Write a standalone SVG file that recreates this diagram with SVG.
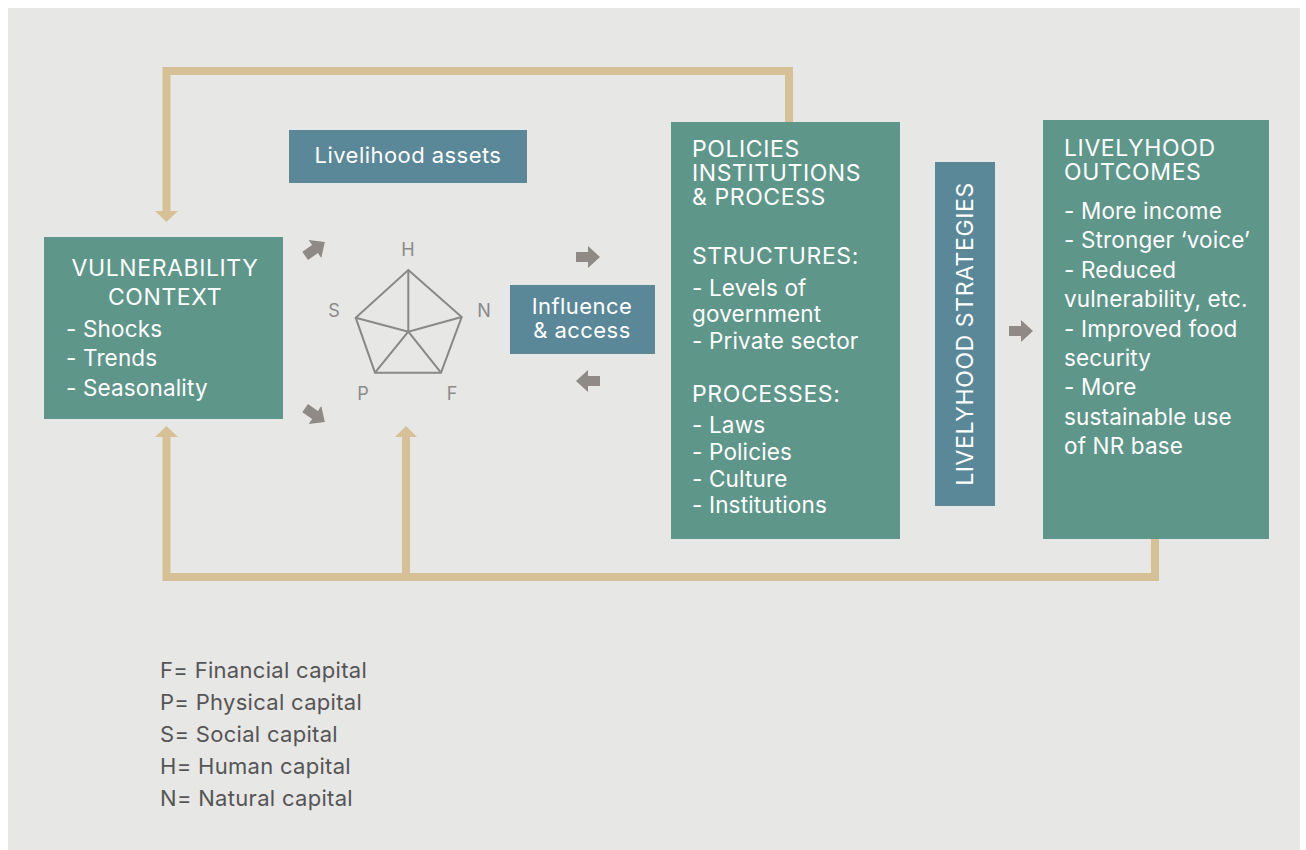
<svg xmlns="http://www.w3.org/2000/svg" width="1306" height="850" viewBox="0 0 1306 850">
<defs>
<style>
.bg{fill:#e7e7e5}
.teal{fill:#5e968a}
.blue{fill:#5a8898}
.wt{fill:#ffffff;font-family:Inter,"Liberation Sans",sans-serif;font-size:22.5px;letter-spacing:0.15px}
.ttl{fill:#ffffff;font-family:Inter,"Liberation Sans",sans-serif;font-size:23px;letter-spacing:0.6px}
.sm{fill:#ffffff;font-family:Inter,"Liberation Sans",sans-serif;font-size:22px;letter-spacing:0.45px}
.lab{fill:#8a8a8a;font-family:Inter,"Liberation Sans",sans-serif;font-size:18px}
.leg{fill:#555555;font-family:Inter,"Liberation Sans",sans-serif;font-size:22px;letter-spacing:0.3px}
.tan{fill:none;stroke:#d6c095;stroke-width:8}
.tanh{fill:#d6c095}
.ga{fill:#8f8a85}
.pent{fill:none;stroke:#888888;stroke-width:2}
</style>
<path id="garrow" d="M-12,-5 h12 v-6 l12,11 l-12,11 v-6 h-12 z"/>
</defs>
<rect x="0" y="0" width="1306" height="850" fill="#ffffff"/>
<rect class="bg" x="8" y="8" width="1292" height="842"/>

<g id="connectors">
<polyline class="tan" points="789,122 789,71 166.5,71 166.5,212"/>
<polygon class="tanh" points="155,211 178,211 166.5,222"/>
<polyline class="tan" points="1155,539 1155,577 166.5,577 166.5,436"/>
<polygon class="tanh" points="155,437 178,437 166.5,426"/>
<polyline class="tan" points="406,577 406,436"/>
<polygon class="tanh" points="395,437 417,437 406,426"/>
<use href="#garrow" class="ga" transform="translate(315,249) rotate(-35)"/>
<use href="#garrow" class="ga" transform="translate(315,415) rotate(35)"/>
<use href="#garrow" class="ga" transform="translate(588,257)"/>
<use href="#garrow" class="ga" transform="translate(588,381) rotate(180)"/>
<use href="#garrow" class="ga" transform="translate(1021,331)"/>
</g>

<g id="vulnerability">
<rect class="teal" x="44" y="237" width="239" height="182"/>
<text class="ttl" x="165" y="276" text-anchor="middle">VULNERABILITY</text>
<text class="ttl" x="165" y="305" text-anchor="middle">CONTEXT</text>
<text class="wt" x="66" y="337">- Shocks</text>
<text class="wt" x="66" y="366">- Trends</text>
<text class="wt" x="66" y="396">- Seasonality</text>
</g>

<g id="assets">
<rect class="blue" x="289" y="130" width="238" height="53"/>
<text class="sm" x="408" y="163" text-anchor="middle">Livelihood assets</text>
</g>

<g id="pentagon">
<polygon class="pent" points="408.3,270 461.7,317 441,372.7 375,372.7 355.7,317.7"/>
<polyline class="pent" points="408.3,270 408.3,331.7"/>
<polyline class="pent" points="355.7,317.7 408.3,331.7 461.7,317"/>
<polyline class="pent" points="375,372.7 408.3,331.7 441,372.7"/>
<text class="lab" x="408" y="256" text-anchor="middle">H</text>
<text class="lab" x="334" y="317" text-anchor="middle">S</text>
<text class="lab" x="484" y="317" text-anchor="middle">N</text>
<text class="lab" x="363" y="400" text-anchor="middle">P</text>
<text class="lab" x="452" y="400" text-anchor="middle">F</text>
</g>

<g id="influence">
<rect class="blue" x="510" y="285" width="145" height="69"/>
<text class="sm" x="582" y="314" text-anchor="middle">Influence</text>
<text class="sm" x="582" y="338" text-anchor="middle">&amp; access</text>
</g>

<g id="policies">
<rect class="teal" x="671" y="122" width="229" height="417"/>
<text class="ttl" x="692" y="157">POLICIES</text>
<text class="ttl" x="692" y="181">INSTITUTIONS</text>
<text class="ttl" x="692" y="205">&amp; PROCESS</text>
<text class="ttl" x="692" y="264">STRUCTURES:</text>
<text class="wt" x="692" y="296">- Levels of</text>
<text class="wt" x="692" y="322">government</text>
<text class="wt" x="692" y="349">- Private sector</text>
<text class="ttl" x="692" y="402">PROCESSES:</text>
<text class="wt" x="692" y="433">- Laws</text>
<text class="wt" x="692" y="460">- Policies</text>
<text class="wt" x="692" y="487">- Culture</text>
<text class="wt" x="692" y="513">- Institutions</text>
</g>

<g id="strategies">
<rect class="blue" x="935" y="162" width="60" height="344"/>
<text class="ttl" x="0" y="0" text-anchor="middle" transform="translate(973,334) rotate(-90)">LIVELYHOOD STRATEGIES</text>
</g>

<g id="outcomes">
<rect class="teal" x="1043" y="120" width="226" height="419"/>
<text class="ttl" x="1064" y="156">LIVELYHOOD</text>
<text class="ttl" x="1064" y="180">OUTCOMES</text>
<text class="wt" x="1064" y="219">- More income</text>
<text class="wt" x="1064" y="248">- Stronger ‘voice’</text>
<text class="wt" x="1064" y="278">- Reduced</text>
<text class="wt" x="1064" y="307">vulnerability, etc.</text>
<text class="wt" x="1064" y="337">- Improved food</text>
<text class="wt" x="1064" y="366">security</text>
<text class="wt" x="1064" y="395">- More</text>
<text class="wt" x="1064" y="425">sustainable use</text>
<text class="wt" x="1064" y="454">of NR base</text>
</g>

<g id="legend">
<text class="leg" x="160" y="678">F= Financial capital</text>
<text class="leg" x="160" y="710">P= Physical capital</text>
<text class="leg" x="160" y="742">S= Social capital</text>
<text class="leg" x="160" y="774">H= Human capital</text>
<text class="leg" x="160" y="806">N= Natural capital</text>
</g>
</svg>
